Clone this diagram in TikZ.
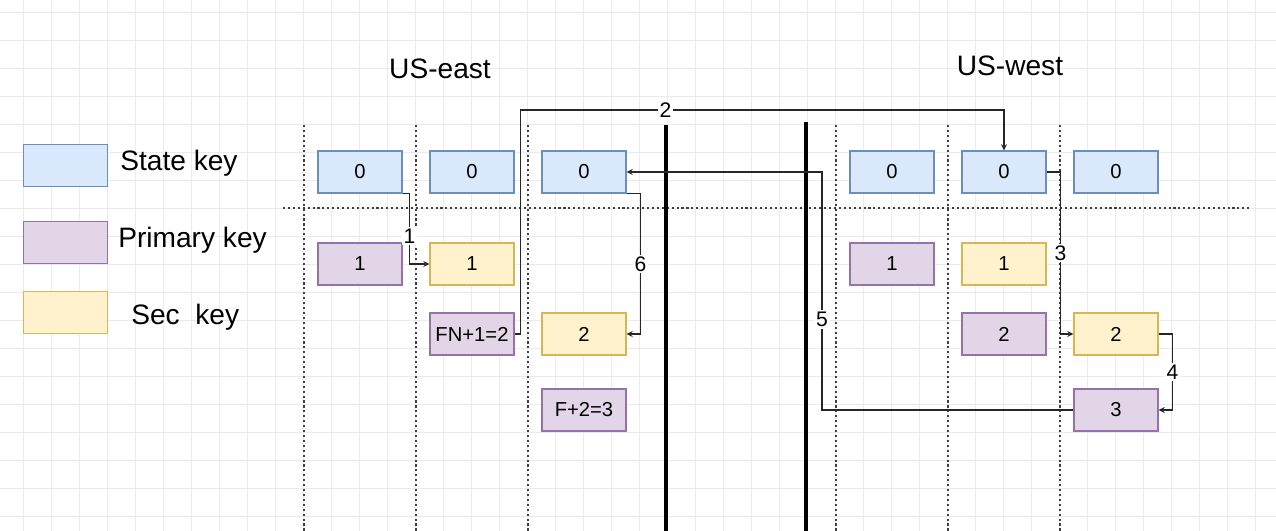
\documentclass[tikz,border=0pt]{standalone}
\usepackage{fontspec}
\setmainfont{Liberation Sans}
\usetikzlibrary{positioning,arrows}
\definecolor{statefill}{HTML}{DAE8FC}
\definecolor{statedraw}{HTML}{6C8EBF}
\definecolor{primfill}{HTML}{E1D5E7}
\definecolor{primdraw}{HTML}{9673A6}
\definecolor{secfill}{HTML}{FFF2CC}
\definecolor{secdraw}{HTML}{D6B656}
\tikzset{
  keybox/.style={minimum width=1.68cm, minimum height=0.84cm, inner sep=0pt,
    line width=0.6pt, font=\fontsize{11.5}{13}\selectfont},
  statekey/.style={keybox, draw=statedraw, fill=statefill},
  primkey/.style={keybox, draw=primdraw, fill=primfill},
  seckey/.style={keybox, draw=secdraw, fill=secfill},
  legendtext/.style={anchor=west, inner sep=0pt, font=\fontsize{16}{18}\selectfont},
  region/.style={font=\fontsize{16}{18}\selectfont},
  link/.style={draw=black!85, line width=0.6pt, -stealth},
  linklabel/.style={fill=white, inner sep=1pt, font=\fontsize{12}{14}\selectfont},
  zone/.style={draw=black!75, line width=0.6pt, dash pattern=on 1.2pt off 1.6pt},
  wall/.style={draw=black, line width=2.8pt},
  gridline/.style={draw=black!8, line width=0.4pt}
}

\begin{document}
\begin{tikzpicture}[x=0.02cm, y=-0.02cm]
  \useasboundingbox (0,0) rectangle (1276,531);
  % background grid
  \foreach \gx in {23,51,...,1276}
    \draw[gridline] (\gx,0) -- (\gx,531);
  \foreach \gy in {12,40,...,531}
    \draw[gridline] (0,\gy) -- (1276,\gy);

  % legend
  \node[statekey] (lstate) at (65.5,165.5) {};
  \node[primkey]  (lprim)  at (65.5,242.5) {};
  \node[seckey]   (lsec)   at (65.5,312.5) {};
  \node[legendtext] (tstate) at (120,163) {State key};
  \node[legendtext] (tprim)  at (118,240) {Primary key};
  \node[legendtext] (tsec)   at (131,317) {Sec\ \ key};

  % regions
  \node[region] (east) at (440,69) {US-east};
  \node[region] (west) at (1010,66) {US-west};
  \foreach \zx in {304,416,528,836,948,1060}
    \draw[zone] (\zx,125) -- (\zx,531);
  \draw[zone] (283,208) -- (1250,208);
  \draw[wall] (666,125) -- (666,531);
  \draw[wall] (806,122) -- (806,531);

  % US-east keys
  \node[statekey] (es1) at (360,172) {0};
  \node[statekey] (es2) at (472,172) {0};
  \node[statekey] (es3) at (584,172) {0};
  \node[primkey]  (ep1) at (360,264) {1};
  \node[seckey]   (et1) at (472,264) {1};
  \node[primkey]  (ep2) at (472,334) {FN+1=2};
  \node[seckey]   (et2) at (584,334) {2};
  \node[primkey]  (ep3) at (584,410) {F+2=3};

  % US-west keys
  \node[statekey] (ws1) at (892,172) {0};
  \node[statekey] (ws2) at (1004,172) {0};
  \node[statekey] (ws3) at (1116,172) {0};
  \node[primkey]  (wp1) at (892,264) {1};
  \node[seckey]   (wt1) at (1004,264) {1};
  \node[primkey]  (wp2) at (1004,334) {2};
  \node[seckey]   (wt2) at (1116,334) {2};
  \node[primkey]  (wp3) at (1116,410) {3};

  % steps
  \coordinate (top2) at (1004,110);
  \coordinate (bend5) at (822,172);
  \draw[link] (es1.south east) -- ++(7,0) |- node[linklabel, pos=0.3] {1} (et1.west);
  \draw[link] (ep2.east) -- ++(6,0) |- node[linklabel, pos=0.65] {2} (top2) -- (ws2.north);
  \draw[link] (ws2.east) -- ++(14,0) |- node[linklabel, pos=0.25] {3} (wt2.west);
  \draw[link] (wt2.east) -- ++(14,0) |- node[linklabel, pos=0.25] {4} (wp3.east);
  \draw[link] (wp3.west) -| node[linklabel, pos=0.69] {5} (bend5) -- (es3.east);
  \draw[link] (es3.south east) -- ++(14,0) |- node[linklabel, pos=0.25] {6} (et2.east);
\end{tikzpicture}
\end{document}
